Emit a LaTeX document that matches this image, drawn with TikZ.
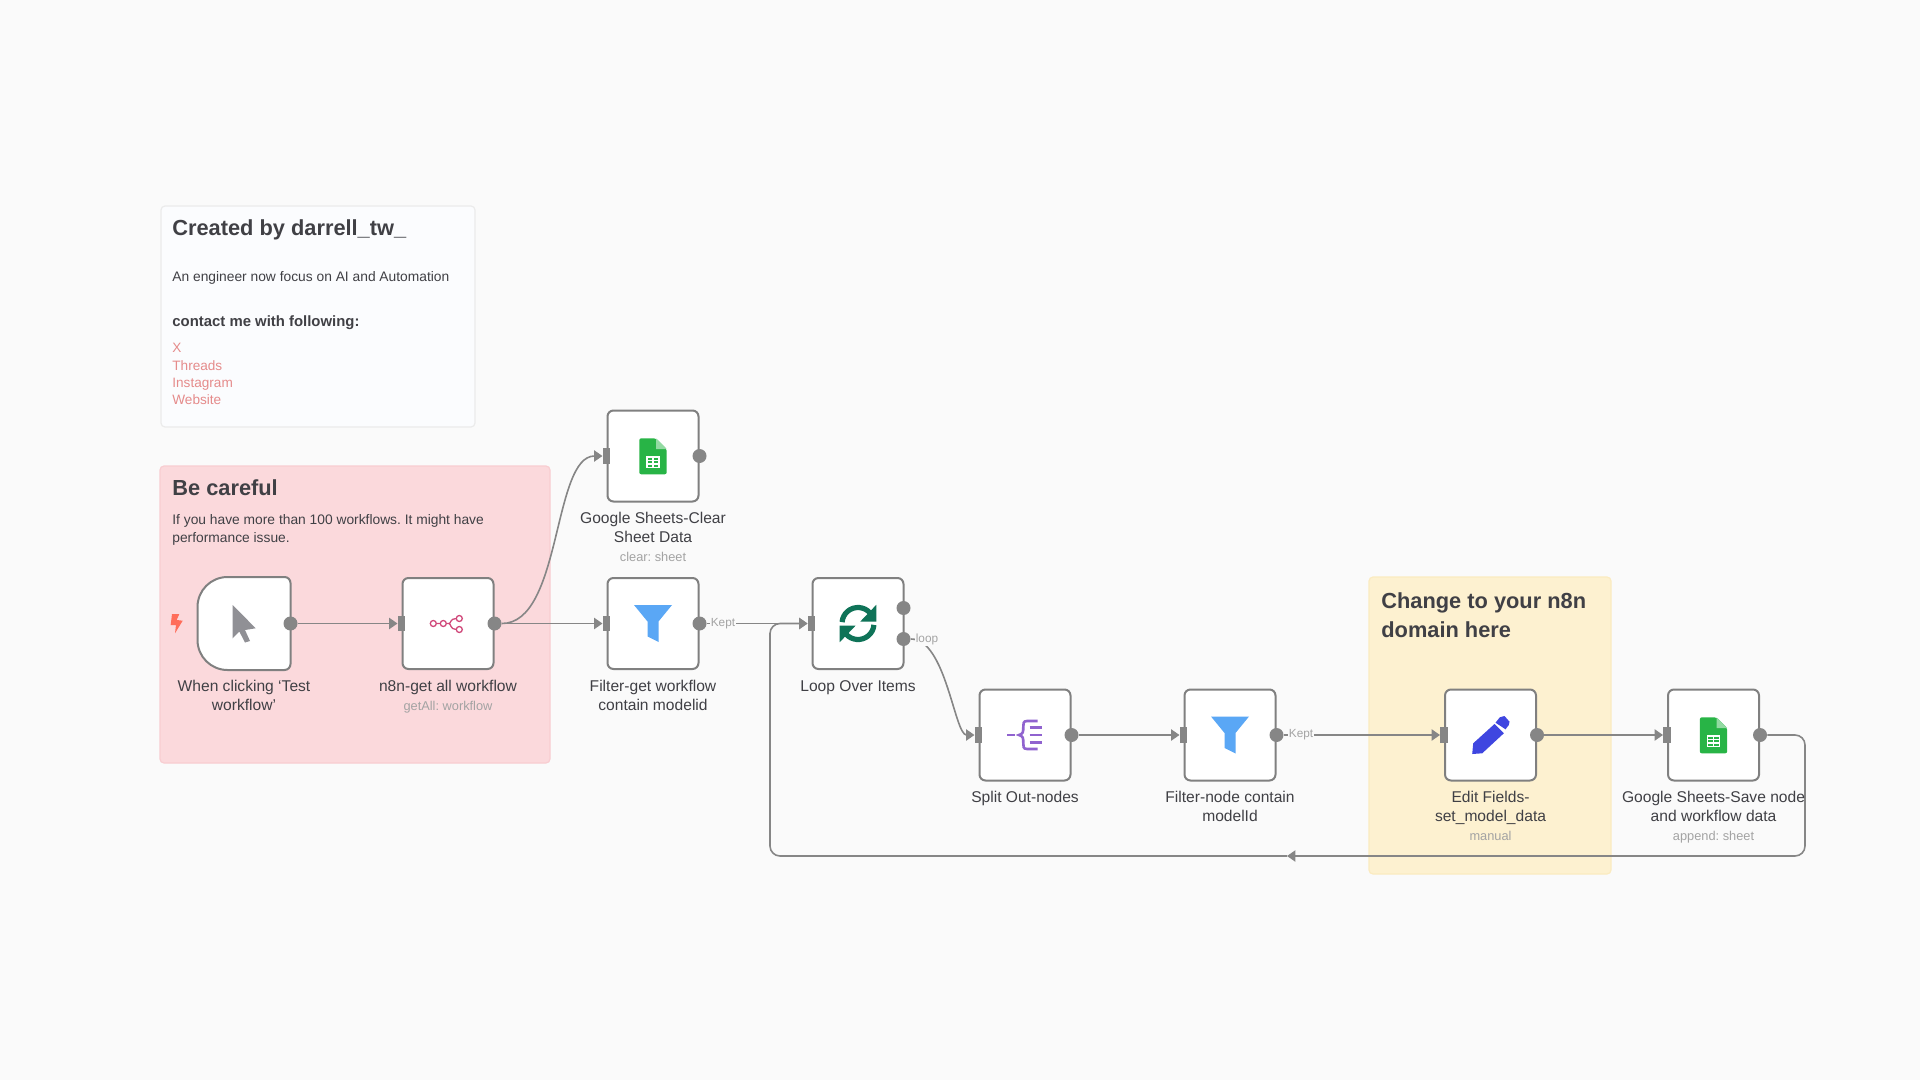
\documentclass[tikz,border=0pt]{standalone}
\usepackage{fontspec}
\setmainfont{Liberation Sans}
\usetikzlibrary{arrows.meta}

\definecolor{canvas}{HTML}{FAFAFA}
\definecolor{inkgray}{HTML}{868686}
\definecolor{boxgray}{HTML}{808080}
\definecolor{textdark}{HTML}{404045}
\definecolor{textsub}{HTML}{A3A3A3}
\definecolor{linkred}{HTML}{E58B8B}
\definecolor{funnelblue}{HTML}{5AA7F5}
\definecolor{sheetgreen}{HTML}{28B446}
\definecolor{notewhite}{HTML}{FBFCFE}
\definecolor{noteedge}{HTML}{EBEBEB}
\definecolor{notepink}{HTML}{FBD9DC}
\definecolor{notepinkedge}{HTML}{F8CDD1}
\definecolor{noteyellow}{HTML}{FDF1D0}
\definecolor{noteyellowedge}{HTML}{FBEBC0}
\definecolor{cursorgray}{HTML}{909095}
\definecolor{boltred}{HTML}{FF6D5A}
\definecolor{nodepink}{HTML}{D0487A}
\definecolor{loopgreen}{HTML}{0F7358}
\definecolor{splitpurple}{HTML}{9063CF}
\definecolor{penblue}{HTML}{3F46E0}

\newcommand{\sheeticon}[1]{
    \begin{scope}[shift={(#1)}]
        \fill[sheetgreen, rounded corners=1] (-13.7,-17.7) -- (3,-17.7) -- (13.7,-7) -- (13.7,18.3) -- (-13.7,18.3) -- cycle;
        \fill[sheetgreen!50!white] (3,-17.7) -- (13.7,-7) -- (3,-7) -- cycle;
        \draw[white, line width=0.6pt] (-6,1) rectangle (6,11.5) (-6,4.5) -- (6,4.5) (-6,8) -- (6,8) (0,1) -- (0,11.5);
    \end{scope}
}
\newcommand{\funnelicon}[1]{
    \fill[funnelblue, shift={(#1)}] (-19,-18.5) -- (19,-18.5) -- (5.5,-2) -- (5.5,18.5) -- (-5.5,13) -- (-5.5,-2) -- cycle;
}

\begin{document}
\frenchspacing
\begin{tikzpicture}[
            x=0.5pt, y=-0.5pt,
            flowbox/.style = {
                draw=boxgray, fill=white, line width=1pt, rounded corners=3pt,
                minimum size=45.5pt, inner sep=0pt
            },
            inport/.style = {
                fill=inkgray, inner sep=0pt, minimum width=3.6pt, minimum height=7.6pt
            },
            outport/.style = {
                circle, fill=inkgray, inner sep=0pt, minimum size=7pt
            },
            edge/.style = {
                line width=0.8pt, draw=inkgray,
                -{Triangle[length=4.2pt, width=5.6pt]}
            },
            edgetext/.style = {
                fill=canvas, text=textsub, inner sep=0.6pt, font=\fontsize{5.9}{7}\selectfont
            },
            flowtext/.style = {
                anchor=north, align=center, text=textdark, inner sep=0pt,
                font=\fontsize{7.8}{9.4}\selectfont
            },
            subtext/.style = {
                anchor=mid, text=textsub, inner sep=0pt, font=\fontsize{6.4}{8}\selectfont
            },
            stickytext/.style = {
                anchor=mid west, text=textdark, inner sep=0pt, font=\fontsize{6.9}{8}\selectfont
            },
            stickyhead/.style = {
                anchor=mid west, text=textdark, inner sep=0pt, font=\fontsize{10.9}{12}\bfseries\selectfont
            },
            linktext/.style = {
                anchor=mid west, text=linkred, inner sep=0pt, font=\fontsize{6.8}{8}\selectfont
            }
            ]
            \fill[canvas] (0,0) rectangle (1920,1080);
            \useasboundingbox (0,0) rectangle (1920,1080);

            % Sticky notes
            \draw[draw=noteedge, fill=notewhite, line width=0.6pt, rounded corners=2pt] (161,206) rectangle (475,427);
            \draw[draw=notepinkedge, fill=notepink, line width=0.6pt, rounded corners=2pt] (160,466) rectangle (550,763);
            \draw[draw=noteyellowedge, fill=noteyellow, line width=0.6pt, rounded corners=2pt] (1369,577) rectangle (1611,874);

            \node[stickyhead] (createdhead) at (172,230) {Created by darrell\_tw\_};
            \node[stickytext] (createdline) at (172,276) {An engineer now focus on AI and Automation};
            \node[stickytext, font=\fontsize{7.45}{9}\bfseries\selectfont] (contacthead) at (172,321) {contact me with following:};
            \node[linktext] (linkx) at (172,347) {X};
            \node[linktext] (linkthreads) at (172,365) {Threads};
            \node[linktext] (linkinsta) at (172,382) {Instagram};
            \node[linktext] (linkweb) at (172,399) {Website};

            \node[stickyhead] (carefulhead) at (172,490) {Be careful};
            \node[stickytext] (carefula) at (172,519.5) {If you have more than 100 workflows. It might have};
            \node[stickytext] (carefulb) at (172,537.5) {performance issue.};

            \node[stickyhead] (changea) at (1381,603) {Change to your n8n};
            \node[stickyhead] (changeb) at (1381,632) {domain here};

            % Nodes
            \node[flowbox, draw=none, fill=none] (trigger) at (244,623.5) {};
            \node[flowbox] (getall) at (448,623.5) {};
            \node[flowbox] (clearsheet) at (653,456) {};
            \node[flowbox] (filtera) at (653,623.5) {};
            \node[flowbox] (loopitems) at (858,623.5) {};
            \node[flowbox] (splitout) at (1025,735) {};
            \node[flowbox] (filterb) at (1230,735) {};
            \node[flowbox] (editfields) at (1490.5,735) {};
            \node[flowbox] (savesheet) at (1713.5,735) {};

            \draw[draw=boxgray, fill=white, line width=1pt, line join=round, rounded corners=3pt] (trigger.north) -- (trigger.north east) -- (trigger.south east) -- (trigger.south)
                [sharp corners] -- ([xshift=15pt]trigger.south west)
                .. controls ([xshift=6.7pt]trigger.south west) and ([yshift=6.7pt]trigger.south west) .. ([yshift=15pt]trigger.south west)
                -- ([yshift=-15pt]trigger.north west)
                .. controls ([yshift=-6.7pt]trigger.north west) and ([xshift=6.7pt]trigger.north west) .. ([xshift=15pt]trigger.north west)
                -- cycle;

            % Ports
            \foreach \name in {getall, clearsheet, filtera, loopitems, splitout, filterb, editfields, savesheet} {
                \node[inport] (\name-in) at (\name.west) {};
            }
            \foreach \name in {trigger, getall, clearsheet, filtera, splitout, filterb, editfields, savesheet} {
                \node[outport] (\name-out) at (\name.east) {};
            }
            \node[outport] (loopdone) at (903.5,608) {};
            \node[outport] (loopnext) at (903.5,639) {};

            \coordinate (backa) at (1805,735);
            \coordinate (backb) at (1805,856);
            \coordinate (backmid) at (1287,856);
            \coordinate (backc) at (770,856);
            \coordinate (backd) at (770,623.5);

            % Edges
            \draw[edge] (trigger-out) -- (getall-in);
            \draw[edge] (getall-out) -- (filtera-in);
            \draw[edge] (getall-out.east) .. controls +(60,0) and +(-50,0) .. (clearsheet-in.west);
            \draw[edge] (filtera-out) -- node[edgetext, pos=0.16] (kepta) {Kept} (loopitems-in);
            \draw[edge] (loopnext.east) .. controls +(35,0) and +(-20,0) .. (splitout-in.west);
            \node[edgetext] (looplabel) at (927,639) {loop};
            \draw[edge] (splitout-out) -- (filterb-in);
            \draw[edge] (filterb-out) -- node[edgetext, pos=0.11] (keptb) {Kept} (editfields-in);
            \draw[edge] (editfields-out) -- (savesheet-in);
            \draw[edge, rounded corners=5pt] (savesheet-out) -- (backa) -- (backb) -- (backmid);
            \draw[edge, rounded corners=5pt] (backmid) -- (backc) -- (backd) -- (loopitems-in);

            % Icons
            \fill[cursorgray, shift={(trigger)}] (-11.3,-18.5) -- (11.7,4.8) -- (1,6.5) -- (6,17.5) -- (1,19) -- (-4.7,8) -- (-11.3,14.8) -- cycle;
            \fill[boltred] (172,614) -- (179.3,614) -- (176.7,620) -- (182.7,620.7) -- (175,633.3) -- (176,625) -- (170.7,625) -- cycle;
            \begin{scope}[shift={(getall)}, draw=nodepink, line width=0.65pt]
                \draw (-14.7,0) circle[radius=3] (-4.7,0) circle[radius=3] (11.3,-5) circle[radius=3] (11.3,6) circle[radius=3];
                \draw (-11.7,0) -- (-7.7,0) (-1.7,0) -- (1,0) .. controls (3,0) and (2,-5) .. (8.3,-5) (1,0) .. controls (3,0) and (2,6) .. (8.3,6);
            \end{scope}
            \sheeticon{clearsheet}
            \funnelicon{filtera}
            \begin{scope}[shift={(loopitems)}, draw=loopgreen, fill=loopgreen]
                \draw[line width=2.6pt] (185:16) arc[start angle=185, end angle=318, radius=16];
                \draw[line width=2.6pt] (5:16) arc[start angle=5, end angle=138, radius=16];
                \fill (18.3,-18.7) -- (18.3,-2) -- (2.3,-2) -- cycle;
                \fill (-18.3,18.7) -- (-18.3,2) -- (-2.3,2) -- cycle;
            \end{scope}
            \begin{scope}[shift={(splitout)}, draw=splitpurple, line width=1.3pt]
                \draw (-17.7,0) -- (-10.5,0);
                \draw (12.5,-14) -- (2,-14) .. controls (-2,-14) and (-1.7,-11) .. (-1.7,-8) .. controls (-1.7,-3) and (-2,-1) .. (-6,0)
                    .. controls (-2,1) and (-1.7,3) .. (-1.7,8) .. controls (-1.7,11) and (-2,14) .. (2,14) -- (12.5,14);
                \draw (4.5,-7.3) -- (16.7,-7.3) (4.5,0) -- (16.7,0) (4.5,7.3) -- (16.7,7.3);
            \end{scope}
            \funnelicon{filterb}
            \begin{scope}[shift={(editfields)}, fill=penblue]
                \fill (-18.3,19) -- (-17.3,8.3) -- (4,-11) -- (13.3,-1.7) -- (-8.3,18.3) -- cycle;
                \fill (5,-12.3) -- (9.3,-17.7) -- (14,-19) -- (19,-13.3) -- (18.3,-10) -- (15,-5.7) -- cycle;
            \end{scope}
            \sheeticon{savesheet}

            % Labels
            \node[flowtext] (triggertext) at (244,680) {When clicking ‘Test\\workflow’};
            \node[flowtext] (getalltext) at (448,680) {n8n-get all workflow};
            \node[subtext] (getallsub) at (448,705) {getAll: workflow};
            \node[flowtext] (cleartext) at (653,512) {Google Sheets-Clear\\Sheet Data};
            \node[subtext] (clearsub) at (653,556) {clear: sheet};
            \node[flowtext] (filteratext) at (653,680) {Filter-get workflow\\contain modelid};
            \node[flowtext] (looptext) at (858,680) {Loop Over Items};
            \node[flowtext] (splittext) at (1025,791) {Split Out-nodes};
            \node[flowtext] (filterbtext) at (1230,791) {Filter-node contain\\modelId};
            \node[flowtext] (edittext) at (1490.5,791) {Edit Fields-\\set\_model\_data};
            \node[subtext] (editsub) at (1490.5,835) {manual};
            \node[flowtext] (savetext) at (1713.5,791) {Google Sheets-Save node\\and workflow data};
            \node[subtext] (savesub) at (1713.5,835) {append: sheet};
        \end{tikzpicture}
\end{document}
